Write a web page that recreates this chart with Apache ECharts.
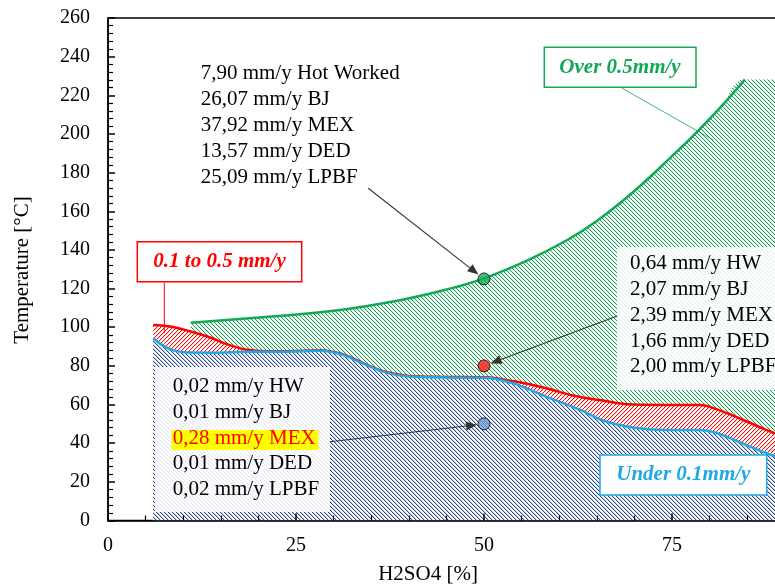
<!DOCTYPE html>
<html>
<head>
<meta charset="utf-8">
<script src="https://cdn.jsdelivr.net/npm/echarts@6/dist/echarts.min.js"></script>
<style>
html,body{margin:0;padding:0;background:#fff;}
#chart{width:775px;height:584px;}
</style>
</head>
<body>
<div id="chart"></div>
<script>
// ---- data ----
const xTicks = [0, 25, 50, 75, 100];
const yTicks = [0, 20, 40, 60, 80, 100, 120, 140, 160, 180, 200, 220, 240, 260];

// Under 0.1 mm/y boundary (blue)
const underX = [6, 8, 10, 14, 19, 24, 28, 31, 34, 37, 40, 45, 50, 54, 58, 62.8, 66, 70, 74.3, 78.7, 81.5, 84, 87.6, 91, 95, 100];
const underY = [94.3, 89, 87, 86.8, 87.3, 87.3, 87.8, 86, 81, 76.5, 74.5, 74, 73.8, 70.8, 64.5, 57.2, 51.5, 48, 46.8, 46.8, 44.5, 40.5, 34.8, 30, 26, 21];

// 0.1 to 0.5 mm/y boundary (red)
const midX = [6, 8.5, 11, 13.5, 16, 18.5, 21, 24, 28, 31, 34, 37, 40, 45, 50, 54, 58.3, 62, 65.4, 69.8, 74, 78.7, 81, 84.5, 87.6, 91, 95, 100];
const midY = [101.1, 100.2, 97.8, 94.8, 91, 88.3, 87.6, 87.6, 88.1, 86.3, 81.3, 76.8, 74.8, 74.3, 74.1, 72, 68.4, 64.5, 62.3, 60, 59.8, 59.8, 57.5, 52, 46.8, 42, 38, 33];

// Over 0.5 mm/y boundary (green)
const overX = [11, 20, 30, 38.8, 45, 50, 56, 61, 65, 70, 75, 78.3, 81.5, 84.7];
const overY = [102.3, 105, 108.5, 114, 119.5, 125.3, 135, 145, 155, 170.5, 188.5, 201, 214, 228.2];
const overPlateauX = [100];
const overPlateauY = [228.2];

// Measured points (H2SO4 %, temperature)
const pointX = [50, 50, 50];
const pointY = [125, 80, 50];
const pointColors = ['#1aa85a', '#ff1a1a', '#6b9bd6'];

// Annotation texts
const overTexts = ['7,90 mm/y Hot Worked', '26,07 mm/y BJ', '37,92 mm/y MEX', '13,57 mm/y DED', '25,09 mm/y LPBF'];
const midTexts = ['0,64 mm/y HW', '2,07 mm/y BJ', '2,39 mm/y MEX', '1,66 mm/y DED', '2,00 mm/y LPBF'];
const underTexts = ['0,02 mm/y HW', '0,01 mm/y BJ', '0,28 mm/y MEX', '0,01 mm/y DED', '0,02 mm/y LPBF'];

// ---- helpers ----
const FONT = '"Liberation Serif", "Times New Roman", serif';
function zip(xs, ys) { return xs.map((x, i) => [x, ys[i]]); }
function hatch(color, down, period, extra) {
  const c = document.createElement('canvas');
  c.width = period; c.height = period;
  const ctx = c.getContext('2d');
  ctx.fillStyle = '#fff';
  ctx.fillRect(0, 0, period, period);
  for (let y = 0; y < period; y++) {
    const x = down ? y : (period - 1 - y);
    ctx.globalAlpha = 1;
    ctx.fillStyle = color;
    ctx.fillRect(x, y, 1, 1);
    if (extra) {
      ctx.globalAlpha = extra;
      ctx.fillRect((x + 1) % period, y, 1, 1);
    }
  }
  return c;
}
const greenHatch = hatch('#10a050', true, 4, 0.15);
const redHatch = hatch('#ff0000', false, 4, 0.15);
const blueHatch = hatch('#2c4a8c', true, 4, 0.3);

const chart = echarts.init(document.getElementById('chart'), null, {renderer: 'canvas'});

const axisCommon = {
  type: 'value',
  z: 10,
  axisLine: {show: true, onZero: false, lineStyle: {color: '#000', width: 1.5}},
  axisTick: {show: true, inside: true, length: 7, lineStyle: {color: '#000', width: 1.5}},
  minorTick: {show: true, splitNumber: 5, length: 5, lineStyle: {color: '#000', width: 1.2}},
  splitLine: {show: false},
  minorSplitLine: {show: false}
};

const option = {
  animation: false,
  backgroundColor: '#fff',
  grid: {left: 108, top: 18, width: 752, height: 502.5, outerBoundsMode: 'none', containLabel: false,
    show: true, borderColor: '#000', borderWidth: 1.5, backgroundColor: 'transparent'},
  xAxis: Object.assign({}, axisCommon, {
    min: xTicks[0], max: xTicks[xTicks.length - 1], interval: 25,
    axisLabel: {fontFamily: FONT, fontSize: 20, color: '#000', margin: 15}
  }),
  yAxis: Object.assign({}, axisCommon, {
    min: yTicks[0], max: yTicks[yTicks.length - 1], interval: 20,
    axisLabel: {fontFamily: FONT, fontSize: 20, color: '#000', margin: 18}
  }),
  series: [
    {
      name: 'overFill', type: 'line', z: 2,
      data: zip(overX.concat(overPlateauX), overY.concat(overPlateauY)),
      smooth: 0.4, showSymbol: false, symbol: 'none',
      lineStyle: {width: 0, opacity: 0},
      areaStyle: {color: {image: greenHatch, repeat: 'repeat'}, opacity: 1}
    },
    {
      name: 'overLine', type: 'line', z: 3,
      data: zip(overX, overY),
      smooth: 0.4, showSymbol: false, symbol: 'none',
      lineStyle: {color: '#12a856', width: 2.5}
    },
    {
      name: 'mid', type: 'line', z: 4,
      data: zip(midX, midY),
      smooth: 0.4, showSymbol: false, symbol: 'none',
      lineStyle: {color: '#ff0000', width: 2.5},
      areaStyle: {color: {image: redHatch, repeat: 'repeat'}, opacity: 1}
    },
    {
      name: 'under', type: 'line', z: 5,
      data: zip(underX, underY),
      smooth: 0.4, showSymbol: false, symbol: 'none',
      lineStyle: {color: '#1ea8e6', width: 2.5},
      areaStyle: {color: {image: blueHatch, repeat: 'repeat'}, opacity: 1}
    },
    {
      name: 'points', type: 'scatter', z: 20,
      data: pointX.map((x, i) => ({value: [x, pointY[i]], itemStyle: {color: pointColors[i]}})),
      symbolSize: 12,
      itemStyle: {borderColor: '#000', borderWidth: 1}
    }
  ]
};
chart.setOption(option);

// ---- annotations ----
const g = [];
function txt(x, y, text, opts) {
  opts = opts || {};
  const font = opts.font || ('21px ' + FONT);
  g.push({
    type: 'text', x: x, y: y, z: 100, rotation: opts.rotation || 0,
    style: {
      text: text, font: font, fill: opts.fill || '#000',
      align: opts.align || 'left', verticalAlign: 'middle',
      textAlign: opts.align || 'left', textVerticalAlign: 'middle'
    }
  });
}
function rect(x, y, w, h, fill, stroke, lw) {
  g.push({type: 'rect', z: 99, shape: {x: x, y: y, width: w, height: h},
    style: {fill: fill, stroke: stroke || null, lineWidth: lw || 0}});
}
function line(x1, y1, x2, y2, color, w) {
  g.push({type: 'line', z: 99, shape: {x1: x1, y1: y1, x2: x2, y2: y2}, style: {stroke: color, lineWidth: w}});
}
function arrow(x1, y1, cx, cy, r, color) {
  const dx = cx - x1, dy = cy - y1, L = Math.hypot(dx, dy);
  const ux = dx / L, uy = dy / L;
  const tx = cx - ux * (r + 1), ty = cy - uy * (r + 1);
  const hl = 11, hw = 4.5;
  const bx = tx - ux * hl, by = ty - uy * hl;
  g.push({type: 'line', z: 101, shape: {x1: x1, y1: y1, x2: bx, y2: by}, style: {stroke: color, lineWidth: 1.1}});
  g.push({type: 'polygon', z: 101, shape: {points: [[tx, ty], [bx - uy * hw, by + ux * hw], [bx + uy * hw, by - ux * hw]]}, style: {fill: color}});
}

// axis names
txt(428, 574, 'H2SO4 [%]', {align: 'center'});
txt(22, 270, 'Temperature [°C]', {align: 'center', rotation: Math.PI / 2});

// top-left text (over 0.5)
const overLineY = [73.3, 99.3, 125.8, 151.7, 177];
overTexts.forEach((t, i) => txt(200.7, overLineY[i], t));

// right box (mid)
rect(617, 247, 200, 143, 'rgba(255,255,255,0.88)');
const midLineY = [263.3, 289.3, 315.8, 341.7, 366.9];
midTexts.forEach((t, i) => txt(630, midLineY[i], t));

// bottom-left box (under)
rect(155, 367, 175, 145, 'rgba(255,255,255,0.88)');
const underLineY = [386.7, 412, 438.5, 463.8, 489.3];
rect(171.5, 430, 147, 20, '#ffff00');
underTexts.forEach((t, i) => txt(172.7, underLineY[i], t, {fill: i === 2 ? '#ff0000' : '#000'}));

// region label boxes
const LBL = 'italic bold 21px ' + FONT;
rect(137.3, 241.7, 164.4, 40, '#fff', '#ff0000', 1.5);
txt(219.5, 261.7, '0.1 to 0.5 mm/y', {align: 'center', font: LBL, fill: '#ff0000'});
line(164.3, 282.5, 164.3, 333, '#ff0000', 1);

rect(544.3, 47.3, 151.7, 40, '#fff', '#12a856', 1.5);
txt(620, 67.3, 'Over 0.5mm/y', {align: 'center', font: LBL, fill: '#12a856'});
line(621.7, 88, 713.3, 140, '#12a856', 0.8);

rect(600, 455, 166.7, 40, '#fff', '#1ea8e6', 1.5);
txt(683.3, 475, 'Under 0.1mm/y', {align: 'center', font: LBL, fill: '#1ea8e6'});

// arrows to the points
const pg = chart.convertToPixel({gridIndex: 0}, [pointX[0], pointY[0]]);
const pr = chart.convertToPixel({gridIndex: 0}, [pointX[1], pointY[1]]);
const pb = chart.convertToPixel({gridIndex: 0}, [pointX[2], pointY[2]]);
arrow(368.3, 188.3, pg[0], pg[1], 6, '#333');
arrow(617.3, 316, pr[0], pr[1], 6, '#333');
arrow(330, 441.7, pb[0], pb[1], 6, '#333');

chart.setOption({graphic: {elements: g}});
</script>
</body>
</html>
